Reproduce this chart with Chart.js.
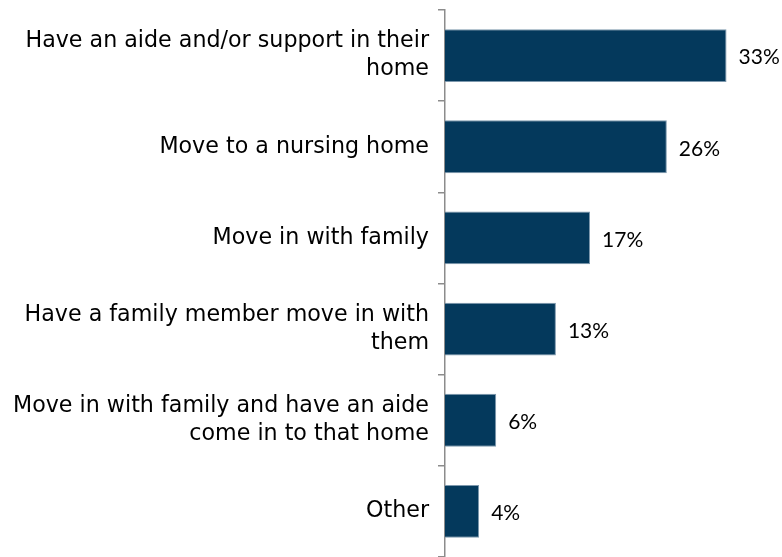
<!DOCTYPE html>
<html>
<head>
<meta charset="utf-8">
<script src="https://cdn.jsdelivr.net/npm/chart.js@4/dist/chart.umd.min.js"></script>
<style>
  html, body { margin: 0; padding: 0; background: #ffffff; overflow: hidden; }
  canvas { display: block; }
</style>
</head>
<body>
<canvas id="c" width="782" height="557" style="width:782px;height:557px"></canvas>
<script>
const categories = [
  ["Have an aide and/or support in their", "home"],
  "Move to a nursing home",
  "Move in with family",
  ["Have a family member move in with", "them"],
  ["Move in with family and have an aide", "come in to that home"],
  "Other"
];
const values = [33, 26, 17, 13, 6, 4];
const valueLabels = ["33%", "26%", "17%", "13%", "6%", "4%"];

const dataLabelPlugin = {
  id: 'dataLabels',
  afterDatasetsDraw(chart) {
    const ctx = chart.ctx;
    const meta = chart.getDatasetMeta(0);
    ctx.save();
    ctx.font = '21px Lato, "Open Sans", sans-serif';
    ctx.fillStyle = '#000000';
    ctx.textAlign = 'left';
    ctx.textBaseline = 'middle';
    meta.data.forEach((bar, i) => {
      ctx.fillText(valueLabels[i], bar.x + 12, bar.y + 2);
    });
    ctx.restore();
  }
};

new Chart(document.getElementById('c'), {
  type: 'bar',
  data: {
    labels: categories,
    datasets: [{
      data: values,
      backgroundColor: '#04395c',
      borderColor: '#7d98ad',
      borderWidth: 1,
      barPercentage: 0.58,
      categoryPercentage: 1.0
    }]
  },
  options: {
    indexAxis: 'y',
    responsive: false,
    maintainAspectRatio: false,
    devicePixelRatio: 1,
    animation: false,
    layout: { padding: { top: 10, bottom: 0, left: 0, right: 0 } },
    plugins: {
      legend: { display: false },
      tooltip: { enabled: false }
    },
    scales: {
      x: {
        display: false,
        min: 0,
        max: 39.5
      },
      y: {
        afterFit(scale) {
          scale.width = 445;
          scale.paddingTop = 0;
          scale.paddingBottom = 0;
        },
        border: { display: true, color: '#8c8c8c', width: 1.5 },
        grid: {
          display: true,
          drawOnChartArea: false,
          drawTicks: true,
          tickLength: 7,
          color: '#8c8c8c',
          lineWidth: 1.5,
          offset: true
        },
        ticks: {
          padding: 9,
          color: '#000000',
          font: { family: '"DejaVu Sans", sans-serif', size: 22.2, lineHeight: 1.26 }
        }
      }
    }
  },
  plugins: [dataLabelPlugin]
});
</script>
</body>
</html>
